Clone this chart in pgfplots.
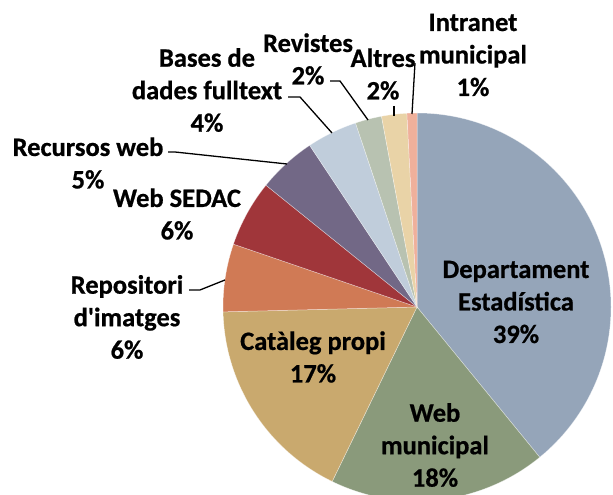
\documentclass[border=0pt]{standalone}
\usepackage{pgfplots}
\pgfplotsset{compat=1.18}
\usepackage{fontspec}
\setmainfont{Carlito}[BoldFeatures={FakeBold=0.7}]
\definecolor{c1}{HTML}{95A5B9}
\definecolor{c2}{HTML}{8A9A7B}
\definecolor{c3}{HTML}{C9A96E}
\definecolor{c4}{HTML}{D07A55}
\definecolor{c5}{HTML}{A0363A}
\definecolor{c6}{HTML}{726886}
\definecolor{c7}{HTML}{C0CDDB}
\definecolor{c8}{HTML}{B8C2B1}
\definecolor{c9}{HTML}{E9D3A7}
\definecolor{c10}{HTML}{EFB09B}
% #1 cumulative share before the slice, #2 share, #3 colour
\newcommand\slice[3]{%
  \pgfmathsetmacro\sa{90-3.6*(#1)}%
  \pgfmathsetmacro\ea{90-3.6*(#1+#2)}%
  \edef\doslice{\noexpand\fill[#3, draw=white, draw opacity=0.5, line width=0.5bp] (axis cs:417,188) -- ++(\sa:194bp) arc[start angle=\sa, end angle=\ea, radius=194bp] -- cycle;}%
  \doslice}
\begin{document}
\begin{tikzpicture}
\begin{axis}[
  scale only axis, width=613bp, height=495bp,
  xmin=0, xmax=613, ymin=0, ymax=495,
  hide axis, clip=true,
]
\addplot[draw=none] coordinates {(0,0) (613,495)};
% shares (percent): 39.1, 18.1, 17.4, 5.65, 5.55, 4.87, 4.2, 2.2, 2.1, 0.83
\slice{0}{39.1}{c1}
\slice{39.1}{18.1}{c2}
\slice{57.2}{17.4}{c3}
\slice{74.6}{5.65}{c4}
\slice{80.25}{5.55}{c5}
\slice{85.8}{4.87}{c6}
\slice{90.67}{4.2}{c7}
\slice{94.87}{2.2}{c8}
\slice{97.07}{2.1}{c9}
\slice{99.17}{0.83}{c10}
% leader lines
\draw[black, line width=1.3bp] (axis cs:288,398) -- (axis cs:300,398) -- (axis cs:332,362);
\draw[black, line width=1.3bp] (axis cs:330,414) -- (axis cs:340,414) -- (axis cs:368,375);
\draw[black, line width=1.3bp] (axis cs:394,389) -- (axis cs:394,379);
\draw[black, line width=1.3bp] (axis cs:415,432) -- (axis cs:412,381);
\draw[black, line width=1.3bp] (axis cs:168,343) -- (axis cs:175,343) -- (axis cs:287,331);
\draw[black, line width=1.3bp] (axis cs:189,205) -- (axis cs:200,205) -- (axis cs:225,215);
% labels
\tikzset{lab/.style={align=center, inner sep=0pt, font=\fontsize{26.5bp}{32.5bp}\selectfont\bfseries}}
\node[lab] at (axis cs:473,440) {Intranet\\municipal\\1\%};
\node[lab] at (axis cs:383,421) {Altres\\2\%};
\node[lab] at (axis cs:308,436) {Revistes\\2\%};
\node[lab] at (axis cs:207,405) {Bases de\\dades fulltext\\4\%};
\node[lab] at (axis cs:88,332) {Recursos web\\5\%};
\node[lab] at (axis cs:177,281) {Web SEDAC\\6\%};
\node[lab] at (axis cs:127,178) {Repositori\\d\textquotesingle imatges\\6\%};
\node[lab] at (axis cs:313,138) {Catàleg propi\\17\%};
\node[lab] at (axis cs:435,50) {Web\\municipal\\18\%};
\node[lab] at (axis cs:516,193) {Departament\\Estadística\\39\%};
\end{axis}
\pgfresetboundingbox
\path (0,0) rectangle (613bp,495bp);
\end{tikzpicture}
\end{document}
